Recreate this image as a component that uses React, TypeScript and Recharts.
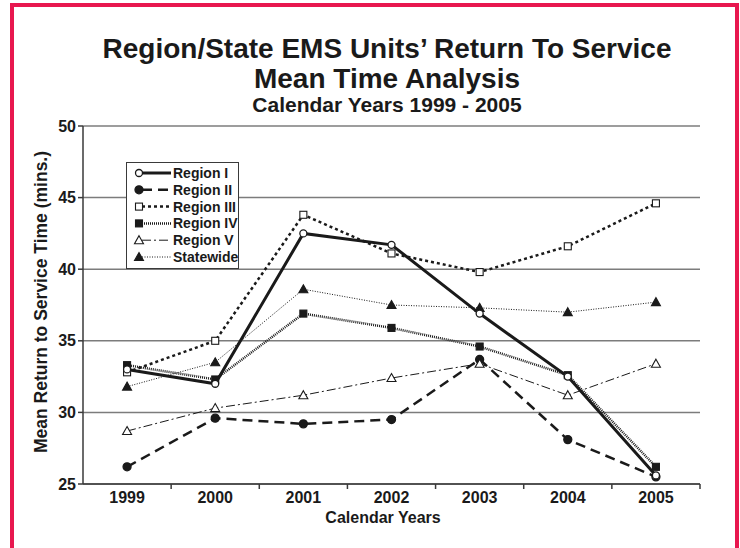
import { CartesianGrid, Legend, Line, LineChart, XAxis, YAxis } from 'recharts';

const YEARS = ['1999', '2000', '2001', '2002', '2003', '2004', '2005'];
const REGION_I = [33.0, 32.0, 42.5, 41.7, 36.9, 32.5, 25.6];
const REGION_II = [26.2, 29.6, 29.2, 29.5, 33.7, 28.1, 25.5];
const REGION_III = [32.8, 35.0, 43.8, 41.1, 39.8, 41.6, 44.6];
const REGION_IV = [33.3, 32.3, 36.9, 35.9, 34.6, 32.6, 26.2];
const REGION_V = [28.7, 30.3, 31.2, 32.4, 33.4, 31.2, 33.4];
const STATEWIDE = [31.8, 33.5, 38.6, 37.5, 37.3, 37.0, 37.7];
const Y_TICKS = [25, 30, 35, 40, 45, 50];

const W = 740;
const H = 548;
const PLOT_LEFT = 83;
const PLOT_RIGHT = 700;
const PLOT_TOP = 126;
const PLOT_BOTTOM = 484;
const HALF_BAND = (PLOT_RIGHT - PLOT_LEFT) / YEARS.length / 2;

const FONT = '"Liberation Sans", Arial, Helvetica, sans-serif';
const INK = '#1a1a1a';
const AXIS = '#3a3a3a';
const GRID = '#7c7c7c';
const FRAME = '#e8174f';

type Mark = 'circleOpen' | 'circle' | 'squareOpen' | 'square' | 'triOpen' | 'tri';

type Series = {
  key: string;
  name: string;
  values: number[];
  width: number;
  dash?: string;
  mark: Mark;
};

// drawing order: lower series first, Region I on top
const SERIES: Series[] = [
  { key: 'r2', name: 'Region II', values: REGION_II, width: 2.5, dash: '10 6', mark: 'circle' },
  { key: 'r5', name: 'Region V', values: REGION_V, width: 1, dash: '9 3 2 3', mark: 'triOpen' },
  { key: 'sw', name: 'Statewide', values: STATEWIDE, width: 1, dash: '1 1.5', mark: 'tri' },
  { key: 'r4', name: 'Region IV', values: REGION_IV, width: 2.5, dash: '1 1', mark: 'square' },
  { key: 'r3', name: 'Region III', values: REGION_III, width: 2.5, dash: '3 3', mark: 'squareOpen' },
  { key: 'r1', name: 'Region I', values: REGION_I, width: 3, mark: 'circleOpen' },
];

const LEGEND_ORDER = ['r1', 'r2', 'r3', 'r4', 'r5', 'sw'];

const rows = YEARS.map((year, i) => {
  const row: Record<string, string | number> = { year };
  SERIES.forEach((s) => {
    row[s.key] = s.values[i];
  });
  return row;
});

function Marker({ cx, cy, mark }: { cx: number; cy: number; mark: Mark }) {
  const open = mark.endsWith('Open');
  const fill = open ? '#fff' : INK;
  const stroke = INK;
  if (mark.startsWith('circle')) {
    return <circle cx={cx} cy={cy} r={open ? 3.5 : 4} fill={fill} stroke={stroke} strokeWidth={1.3} />;
  }
  if (mark.startsWith('square')) {
    return <rect x={cx - 3.5} y={cy - 3.5} width={7} height={7} fill={fill} stroke={stroke} strokeWidth={1.1} />;
  }
  const pts = `${cx},${cy - 4.5} ${cx + 4.5},${cy + 3.5} ${cx - 4.5},${cy + 3.5}`;
  return <polygon points={pts} fill={fill} stroke={stroke} strokeWidth={1.1} />;
}

function YearTick(props: any) {
  const { x, y, payload } = props;
  return (
    <g>
      <line x1={x + HALF_BAND} x2={x + HALF_BAND} y1={y} y2={y + 5} stroke={AXIS} strokeWidth={1.5} />
      <text x={x} y={y + 19} textAnchor="middle" fill={INK} fontFamily={FONT} fontWeight="bold" fontSize={16}>
        {payload.value}
      </text>
    </g>
  );
}

function LegendBox() {
  return (
    <svg width={113} height={107} style={{ display: 'block' }}>
      <rect x={0.5} y={0.5} width={112} height={106} fill="#fff" stroke={AXIS} strokeWidth={1} />
      {LEGEND_ORDER.map((key, i) => {
        const s = SERIES.find((d) => d.key === key)!;
        const y = 11 + i * 16.8;
        return (
          <g key={key}>
            <line x1={16} x2={45} y1={y} y2={y} stroke={INK} strokeWidth={s.width} strokeDasharray={s.dash} />
            <Marker cx={13} cy={y} mark={s.mark} />
            <text x={47} y={y} dy="0.36em" fill={INK} fontFamily={FONT} fontWeight="bold" fontSize={14}>
              {s.name}
            </text>
          </g>
        );
      })}
    </svg>
  );
}

export default function App() {
  return (
    <div style={{ position: 'fixed', left: 0, top: 0, width: W, height: H, overflow: 'hidden', background: '#fff' }}>
      <LineChart
        width={W}
        height={H}
        data={rows}
        margin={{ top: PLOT_TOP, right: W - PLOT_RIGHT, bottom: 0, left: 0 }}
      >
        <CartesianGrid vertical={false} stroke={GRID} strokeWidth={1.5} />
        <XAxis
          dataKey="year"
          height={H - PLOT_BOTTOM}
          padding={{ left: HALF_BAND, right: HALF_BAND }}
          interval={0}
          tickLine={false}
          tickSize={0}
          tickMargin={0}
          tick={YearTick}
          axisLine={{ stroke: AXIS, strokeWidth: 1.5 }}
        />
        <YAxis
          width={PLOT_LEFT}
          domain={[25, 50]}
          ticks={Y_TICKS}
          tickSize={5}
          tickMargin={2}
          axisLine={{ stroke: AXIS, strokeWidth: 1.5 }}
          tickLine={{ stroke: AXIS, strokeWidth: 1.5 }}
          tick={{ fill: INK, fontFamily: FONT, fontWeight: 'bold', fontSize: 16 }}
        />
        <YAxis
          yAxisId="frame"
          orientation="right"
          width={0}
          domain={[25, 50]}
          tick={false}
          tickLine={false}
          axisLine={{ stroke: AXIS, strokeWidth: 1.5 }}
        />
        <Legend
          layout="horizontal"
          verticalAlign="middle"
          align="center"
          content={() => <LegendBox />}
          wrapperStyle={{ left: 126, top: 162, width: 113, height: 107 }}
        />
        {SERIES.map((s) => (
          <Line
            key={s.key}
            type="linear"
            dataKey={s.key}
            name={s.name}
            stroke={INK}
            strokeWidth={s.width}
            strokeDasharray={s.dash}
            dot={(p: any) => <Marker key={`${s.key}-${p.index}`} cx={p.cx} cy={p.cy} mark={s.mark} />}
            activeDot={false}
            isAnimationActive={false}
          />
        ))}
      </LineChart>

      <svg width={W} height={H} style={{ position: 'absolute', left: 0, top: 0, pointerEvents: 'none' }}>
        {/* red page frame, open at the bottom */}
        <g fill={FRAME}>
          <rect x={10} y={3} width={729} height={4} />
          <rect x={10} y={3} width={4} height={H} />
          <rect x={735} y={3} width={4} height={H} />
        </g>
        <g fill={INK} fontFamily={FONT} fontWeight="bold" textAnchor="middle">
          <text x={387} y={58} fontSize={28}>Region/State EMS Units’ Return To Service</text>
          <text x={387} y={88} fontSize={28}>Mean Time Analysis</text>
          <text x={387} y={112} fontSize={21}>Calendar Years 1999 - 2005</text>
          <text x={383} y={523} fontSize={16}>Calendar Years</text>
          <text x={41} y={302} fontSize={17.5} dy="0.36em" transform="rotate(-90 41 302)">
            Mean Return to Service Time (mins.)
          </text>
        </g>
      </svg>
    </div>
  );
}
